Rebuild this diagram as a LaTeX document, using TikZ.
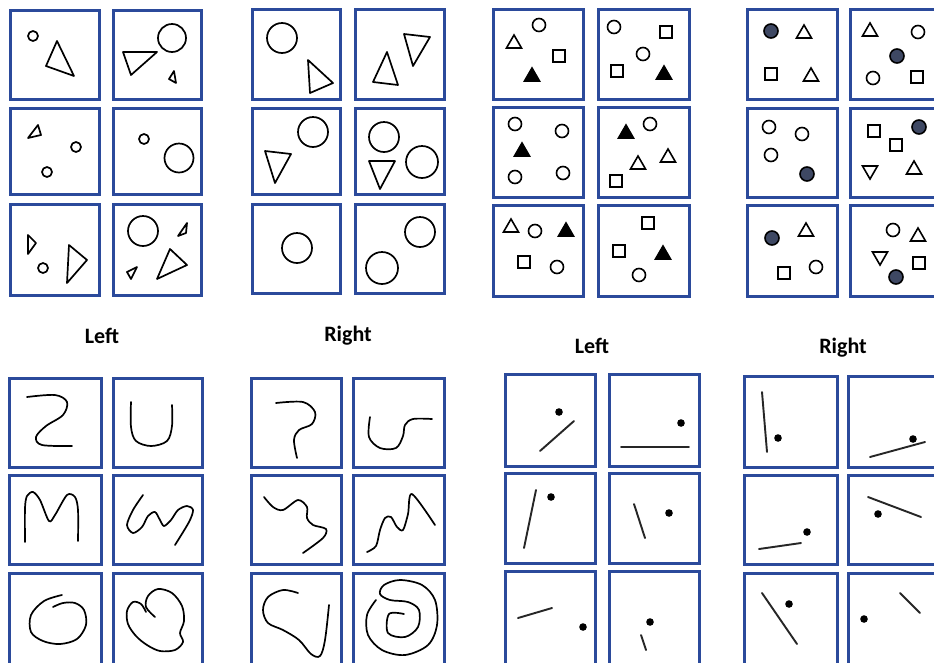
\documentclass[tikz,border=0pt]{standalone}
\usepackage{fontspec}
\setmainfont{Carlito}
\definecolor{boxblue}{HTML}{2B4A9B}
\definecolor{dotfill}{HTML}{3E4863}
\newcommand{\Bx}[4]{\draw[bx] (#1,#2) rectangle (#3,#4);}
\newcommand{\Otri}[2]{\draw[sm] (#1,#2) +(0,-7) -- +(7.5,6) -- +(-7.5,6) -- cycle;}
\newcommand{\Ftri}[2]{\draw[sm,fill=black] (#1,#2) +(0,-7) -- +(7.5,6) -- +(-7.5,6) -- cycle;}
\newcommand{\Dtri}[2]{\draw[sm] (#1,#2) +(0,7) -- +(7.5,-6) -- +(-7.5,-6) -- cycle;}
\newcommand{\Sq}[2]{\draw[sm] (#1,#2) +(-6,-6) rectangle +(6,6);}
\newcommand{\Ci}[2]{\draw[sm] (#1,#2) circle[radius=6.5pt];}
\newcommand{\Fci}[2]{\draw[sm,fill=dotfill] (#1,#2) circle[radius=7pt];}
\newcommand{\Dt}[2]{\fill (#1,#2) circle[radius=3.8pt];}
\newcommand{\Seg}[4]{\draw[ln] (#1,#2) -- (#3,#4);}
\begin{document}
\begin{tikzpicture}[x=1pt,y=-1pt,
  bx/.style={draw=boxblue,line width=3pt},
  sh/.style={draw=black,line width=1.7pt,line join=round},
  sm/.style={draw=black,line width=1.6pt,line join=miter},
  cv/.style={draw=black,line width=1.7pt,line cap=round,line join=round},
  ln/.style={draw=black!85,line width=1.9pt,line cap=round},
  lab/.style={font=\fontsize{22}{26}\selectfont\bfseries,anchor=base,inner sep=0pt}]
\useasboundingbox (0,0) rectangle (934,662);
\clip (0,0) rectangle (934,662);
\fill[white] (0,0) rectangle (934,662);
% ---------- Panel 1 ----------
\Bx{10}{10}{99}{99} \Bx{113}{10}{201}{99}
\Bx{10}{108}{99}{194} \Bx{113}{108}{201}{194}
\Bx{10}{204}{99}{295} \Bx{113}{204}{201}{295}
\draw[sh] (33,36) circle[radius=5pt];
\draw[sh] (57,41) -- (46,66) -- (74,76) -- cycle;
\draw[sh] (172,38) circle[radius=14pt];
\draw[sh] (123,52) -- (157,52) -- (131,75) -- cycle;
\draw[sh] (174,71) -- (169,79) -- (176,83) -- cycle;
\draw[sh] (38,125) -- (28,138) -- (41,135) -- cycle;
\draw[sh] (76,147) circle[radius=5pt];
\draw[sh] (47,172) circle[radius=5pt];
\draw[sh] (144,139) circle[radius=5pt];
\draw[sh] (179,158) circle[radius=14.5pt];
\draw[sh] (28,235) -- (28,254) -- (36,243) -- cycle;
\draw[sh] (43,268) circle[radius=5pt];
\draw[sh] (69,245) -- (67,283) -- (87,260) -- cycle;
\draw[sh] (143,231) circle[radius=15pt];
\draw[sh] (187,223) -- (178,236) -- (186,233) -- cycle;
\draw[sh] (170,249) -- (157,279) -- (187,265) -- cycle;
\draw[sh] (127,272) -- (137,267) -- (131,279) -- cycle;
% ---------- Panel 2 ----------
\Bx{252}{9}{340}{99} \Bx{355}{9}{444}{99}
\Bx{252}{108}{340}{194} \Bx{355}{108}{444}{194}
\Bx{252}{204}{340}{293} \Bx{355}{204}{444}{293}
\draw[sh] (282,38) circle[radius=15pt];
\draw[sh] (308,60) -- (310,93) -- (333,83) -- cycle;
\draw[sh] (387,52) -- (373,82) -- (398,85) -- cycle;
\draw[sh] (404,34) -- (430,37) -- (413,66) -- cycle;
\draw[sh] (313,132) circle[radius=15pt];
\draw[sh] (265,151) -- (291,154) -- (275,183) -- cycle;
\draw[sh] (384,137) circle[radius=15pt];
\draw[sh] (422,162) circle[radius=16pt];
\draw[sh] (369,161) -- (395,161) -- (380,189) -- cycle;
\draw[sh] (297,248) circle[radius=15pt];
\draw[sh] (420,232) circle[radius=15pt];
\draw[sh] (382,268) circle[radius=16pt];
% ---------- Panel 3 ----------
\Bx{493}{9}{583}{99} \Bx{598}{9}{689}{99}
\Bx{493}{107}{583}{197} \Bx{598}{107}{689}{197}
\Bx{493}{205}{583}{296} \Bx{598}{205}{689}{296}
\Ci{539}{25} \Otri{514}{42} \Sq{559}{56} \Ftri{532}{75}
\Ci{614}{27} \Sq{666}{32} \Ci{643}{54} \Sq{617}{71} \Ftri{664}{73}
\Ci{515}{124} \Ci{562}{131} \Ftri{522}{150} \Ci{515}{177} \Ci{563}{173}
\Ftri{626}{132} \Ci{650}{124} \Otri{638}{163} \Otri{668}{156} \Sq{616}{181}
\Otri{511}{226} \Ci{535}{231} \Ftri{566}{230} \Sq{524}{262} \Ci{557}{267}
\Sq{648}{223} \Sq{619}{251} \Ftri{663}{253} \Ci{639}{275}
% ---------- Panel 4 ----------
\Bx{747}{9}{837}{99} \Bx{850}{9}{940}{99}
\Bx{747}{108}{837}{197} \Bx{850}{108}{940}{197}
\Bx{747}{205}{837}{296} \Bx{850}{205}{940}{296}
\Fci{771}{31} \Otri{804}{32} \Sq{771}{74} \Otri{811}{75}
\Otri{870}{30} \Ci{918}{32} \Fci{897}{56} \Ci{873}{78} \Sq{917}{77}
\Ci{769}{127} \Ci{802}{134} \Ci{771}{155} \Fci{807}{174}
\Sq{874}{131} \Sq{896}{145} \Fci{919}{127} \Dtri{870}{172} \Otri{914}{168}
\Fci{772}{238} \Otri{806}{230} \Sq{784}{273} \Ci{816}{267}
\Ci{893}{230} \Otri{918}{235} \Dtri{880}{258} \Sq{919}{263} \Fci{896}{277}
% ---------- Labels ----------
\node[lab] (l1) at (102,343) {Left};
\node[lab] (r1) at (348,341) {Right};
\node[lab] (l2) at (592,353) {Left};
\node[lab] (r2) at (843,353) {Right};
% ---------- Panel 5 ----------
\Bx{9}{378}{101}{467} \Bx{113}{378}{202}{467}
\Bx{9}{475}{101}{564} \Bx{113}{475}{202}{564}
\Bx{9}{573}{101}{666} \Bx{113}{573}{202}{666}
\draw[cv] plot[smooth,tension=0.55] coordinates {(27,397) (55,395) (67,402) (63,415) (46,426) (36,437) (42,445) (72,446)};
\draw[cv] plot[smooth,tension=0.55] coordinates {(131,402) (131,427) (136,441) (151,446) (167,441) (172,426) (172,405)};
\draw[cv] plot[smooth,tension=0.5] coordinates {(25,542) (25,508) (27,496) (33,492) (40,500) (49,521) (55,515) (67,495) (75,497) (78,510) (78,541)};
\draw[cv] plot[smooth,tension=0.5] coordinates {(143,495) (133,510) (127,525) (133,533) (142,527) (148,516) (155,512) (160,520) (164,526) (171,520) (178,510) (187,506) (193,510) (189,522) (175,545)};
\draw[cv] plot[smooth,tension=0.55] coordinates {(62,595) (44,601) (31,615) (31,632) (43,641) (60,644) (77,639) (86,625) (84,610) (75,603) (63,603) (53,607)};
\draw[cv] plot[smooth,tension=0.55] coordinates {(155,617) (146,607) (148,596) (158,589) (172,593) (182,606) (184,621) (180,633) (183,642) (175,650) (160,651) (147,645) (136,636) (128,624) (127,611) (133,602) (141,604) (146,612)};
% ---------- Panel 6 ----------
\Bx{251}{378}{341}{467} \Bx{353}{378}{444}{467}
\Bx{251}{475}{341}{564} \Bx{353}{475}{444}{564}
\Bx{251}{573}{341}{666} \Bx{353}{573}{444}{666}
\draw[cv] plot[smooth,tension=0.55] coordinates {(276,403) (303,402) (315,412) (312,424) (299,430) (294,440) (297,458)};
\draw[cv] plot[smooth,tension=0.55] coordinates {(370,417) (369,437) (380,448) (396,448) (403,436) (405,425) (413,419) (432,419)};
\draw[cv] plot[smooth,tension=0.5] coordinates {(264,497) (273,507) (283,510) (298,500) (307,507) (307,518) (313,525) (326,529) (323,538) (303,553)};
\draw[cv] plot[smooth,tension=0.5] coordinates {(367,552) (376,546) (380,530) (385,518) (391,517) (397,527) (403,530) (408,514) (412,494) (435,525)};
\draw[cv] plot[smooth,tension=0.55] coordinates {(298,593) (283,590) (268,597) (263,610) (268,623) (283,630) (299,640) (311,654) (320,656) (325,640) (329,605)};
\draw[cv] plot[smooth,tension=0.55] coordinates {(404,614) (389,614) (388,633) (405,637) (418,627) (419,610) (408,602) (390,600) (380,594) (384,585) (400,580) (422,585) (435,600) (437,625) (428,645) (405,655) (382,650) (368,635) (367,615) (376,600)};
% ---------- Panel 7 ----------
\Bx{505}{374}{595}{466} \Bx{609}{374}{699}{466}
\Bx{505}{473}{595}{563} \Bx{609}{473}{699}{563}
\Bx{505}{571}{595}{666} \Bx{609}{571}{699}{666}
\Dt{559}{412} \Seg{540}{451}{574}{421}
\Dt{681}{423} \Seg{621}{447}{689}{447}
\Dt{551}{497} \Seg{536}{490}{524}{548}
\Dt{669}{513} \Seg{634}{504}{645}{538}
\Seg{518}{618}{552}{608} \Dt{583}{627}
\Dt{650}{622} \Seg{641}{635}{646}{650}
% ---------- Panel 8 ----------
\Bx{744}{376}{837}{467} \Bx{848}{376}{940}{467}
\Bx{744}{475}{837}{564} \Bx{848}{475}{940}{564}
\Bx{744}{573}{837}{666} \Bx{848}{573}{940}{666}
\Seg{762}{392}{767}{452} \Dt{778}{438}
\Dt{913}{439} \Seg{870}{457}{925}{442}
\Dt{807}{532} \Seg{759}{549}{801}{543}
\Seg{868}{497}{921}{517} \Dt{878}{514}
\Seg{762}{593}{797}{644} \Dt{789}{604}
\Dt{864}{619} \Seg{900}{593}{920}{613}
\end{tikzpicture}
\end{document}
